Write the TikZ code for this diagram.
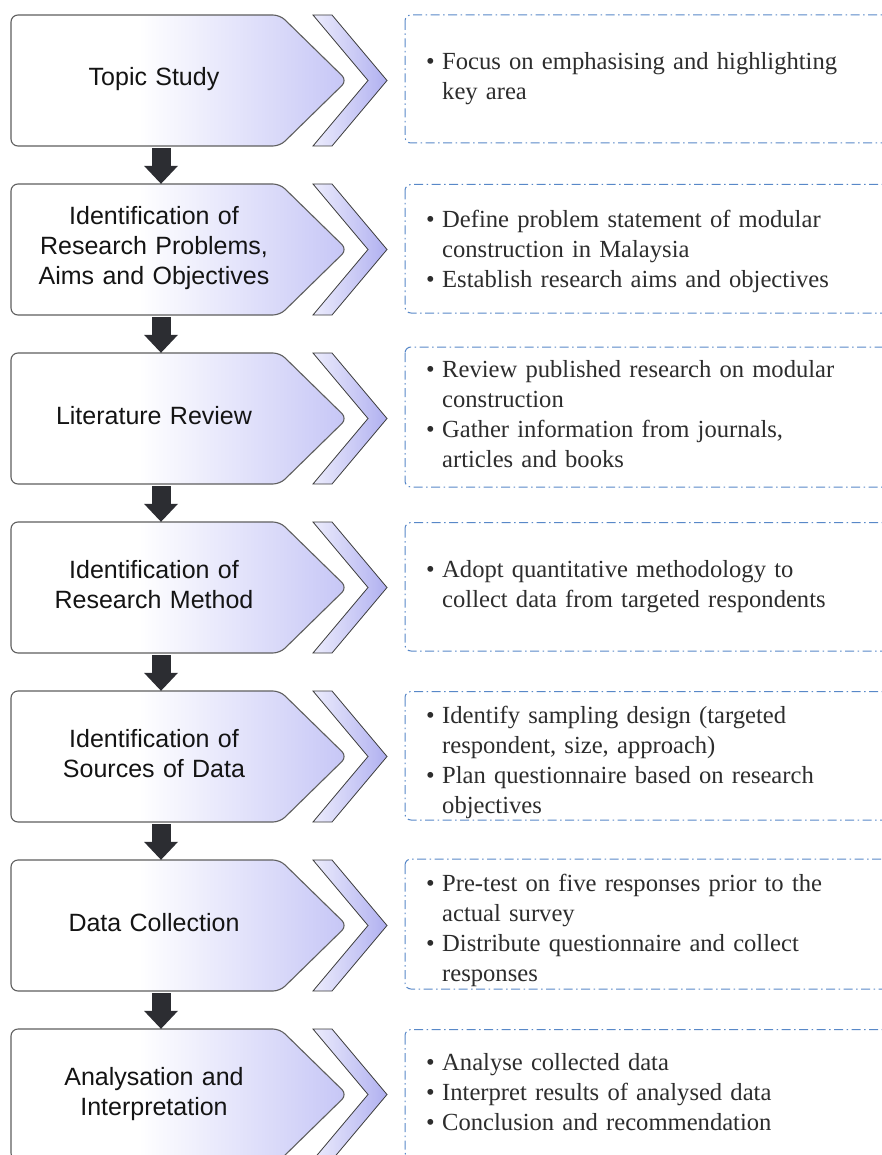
\documentclass[tikz,border=0pt]{standalone}
\usepackage{fontspec}
\setmainfont{Liberation Serif}
\newfontfamily\labelfont{Liberation Sans}
\usetikzlibrary{arrows.meta}

\definecolor{lav}{RGB}{198,198,246}
\definecolor{chev}{RGB}{176,176,240}
\definecolor{chevlight}{RGB}{236,236,252}
\definecolor{boxedge}{RGB}{95,95,95}
\definecolor{chevedge}{RGB}{60,60,60}
\definecolor{dashblue}{RGB}{88,136,200}
\definecolor{bodytext}{RGB}{45,45,45}
\definecolor{labeltext}{RGB}{20,20,20}
\definecolor{arrowdark}{RGB}{44,45,50}

% fill of the step boxes: white on the left half, lavender towards the tip
\pgfdeclarehorizontalshading{boxfade}{100bp}{color(0bp)=(white); color(25bp)=(white); color(44bp)=(white); color(75bp)=(lav); color(100bp)=(lav)}
\pgfdeclarehorizontalshading{chevfade}{100bp}{color(0bp)=(chevlight); color(25bp)=(chevlight); color(75bp)=(chev); color(100bp)=(chev)}

\newcommand\itemmark{\makebox[16pt][l]{\textbullet}}
\newcommand\itemcont{\hspace*{16pt}}

\begin{document}
\begin{tikzpicture}[x=1pt,y=-1pt,
  stepbox/.style={draw=boxedge, line width=1.1pt, shading=boxfade, rounded corners=7pt},
  chevron/.style={draw=chevedge, line width=0.8pt, shading=chevfade},
  notebox/.style={draw=dashblue, line width=1pt, dash pattern=on 9pt off 3.5pt on 1.5pt off 3.5pt, rounded corners=6pt},
  steplabel/.style={font=\labelfont\fontsize{25}{30}\selectfont, text=labeltext, text width=300pt, align=center, inner sep=0pt, anchor=base},
  notetext/.style={font=\fontsize{24.6}{30}\selectfont, text=bodytext, text width=450pt, align=left, inner sep=0pt, anchor=base west},
  flow/.style={draw=arrowdark, line width=19pt, shorten <=2pt, -{Triangle[width=34pt,length=18pt,line width=0pt]}},
  frame/.style={inner sep=0pt, minimum width=300pt, minimum height=131pt}
]
\useasboundingbox[fill=white] (0,0) rectangle (881,1155);

% step shapes: pentagon box, chevron and dashed note frame
\foreach \i/\t/\nt/\nb in {1/15/15/143, 2/184/184.5/313, 3/353/347/487, 4/522/522.5/651, 5/691/691.5/820, 6/860/859/989, 7/1029/1029.5/1158}{
  \path[stepbox] (11,\t) -- (280,\t) -- (347,\t+65.5) -- (280,\t+131) -- (11,\t+131) -- cycle;
  \path[chevron] (313,\t) -- (332,\t) -- (387,\t+65.5) -- (332,\t+131) -- (313,\t+131) -- (368,\t+65.5) -- cycle;
  \draw[notebox] (405,\nt) rectangle (905,\nb);
  \node[frame] (B\i) at (161,\t+65.5) {};
}

% step titles
\node[steplabel] (T1) at (154,86) {Topic Study};
\node[steplabel] (T2) at (154,225) {Identification of\\Research Problems,\\Aims and Objectives};
\node[steplabel] (T3) at (154,424) {Literature Review};
\node[steplabel] (T4) at (154,578) {Identification of\\Research Method};
\node[steplabel] (T5) at (154,747) {Identification of\\Sources of Data};
\node[steplabel] (T6) at (154,931) {Data Collection};
\node[steplabel] (T7) at (154,1085) {Analysation and\\Interpretation};

% notes for each step
\node[notetext] (N1) at (426,70) {\itemmark Focus on emphasising and highlighting\\\itemcont key area};
\node[notetext] (N2) at (426,228) {\itemmark Define problem statement of modular\\\itemcont construction in Malaysia\\\itemmark Establish research aims and objectives};
\node[notetext] (N3) at (426,377) {\itemmark Review published research on modular\\\itemcont construction\\\itemmark Gather information from journals,\\\itemcont articles and books};
\node[notetext] (N4) at (426,577) {\itemmark Adopt quantitative methodology to\\\itemcont collect data from targeted respondents};
\node[notetext] (N5) at (426,723) {\itemmark Identify sampling design (targeted\\\itemcont respondent, size, approach)\\\itemmark Plan questionnaire based on research\\\itemcont objectives};
\node[notetext] (N6) at (426,891) {\itemmark Pre-test on five responses prior to the\\\itemcont actual survey\\\itemmark Distribute questionnaire and collect\\\itemcont responses};
\node[notetext] (N7) at (426,1070) {\itemmark Analyse collected data\\\itemmark Interpret results of analysed data\\\itemmark Conclusion and recommendation};

% flow arrows between steps
\foreach \a/\b in {1/2,2/3,3/4,4/5,5/6,6/7}{
  \draw[flow] (B\a.south) -- (B\b.north);
}
\end{tikzpicture}
\end{document}
